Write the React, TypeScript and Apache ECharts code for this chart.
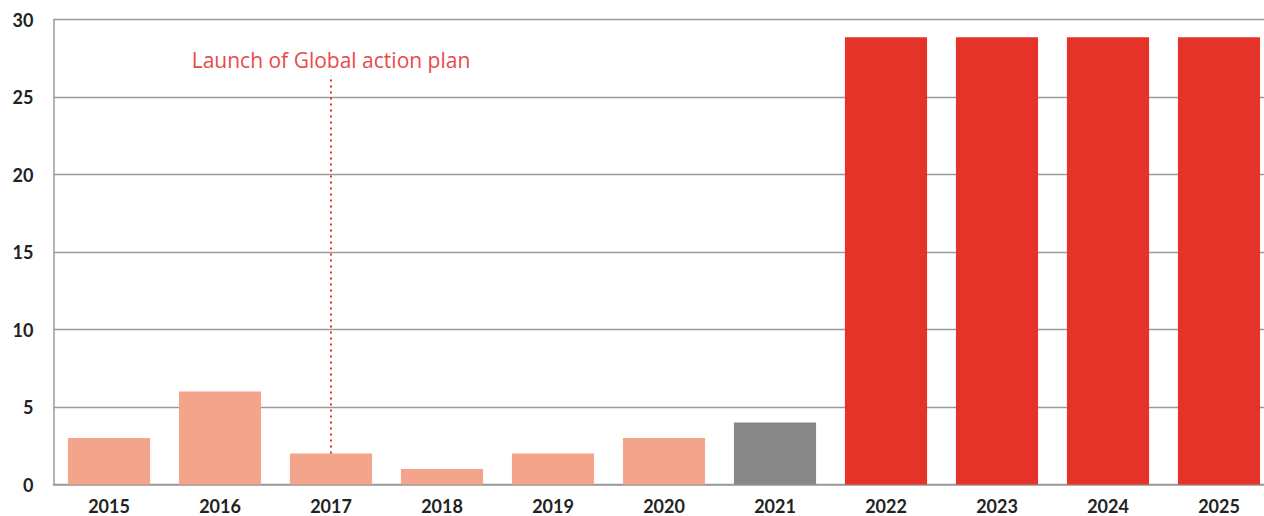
import React, { useEffect, useRef } from "react";
import * as echarts from "echarts";

const categories = ["2015", "2016", "2017", "2018", "2019", "2020", "2021", "2022", "2023", "2024", "2025"];
const values = [3, 6, 2, 1, 2, 3, 4, 28.85, 28.85, 28.85, 28.85];
const barColors = [
  "#F4A48A", "#F4A48A", "#F4A48A", "#F4A48A", "#F4A48A", "#F4A48A",
  "#878787",
  "#E5332A", "#E5332A", "#E5332A", "#E5332A",
];
const annotationText = "Launch of Global action plan";
const annotationCategory = "2017";
const annotationFrom = 2;
const annotationTo = 26.4;

export default function App() {
  const ref = useRef<HTMLDivElement>(null);
  useEffect(() => {
    if (!ref.current) return;
    const chart = echarts.init(ref.current, null, { renderer: "svg" });
    chart.setOption({
      animation: false,
      grid: { left: 53.5, top: 19.5, bottom: 31.5, width: 1221, containLabel: false },
      xAxis: {
        type: "category",
        data: categories,
        axisTick: { show: false },
        axisLine: { show: true, lineStyle: { color: "#9a9a9a", width: 1.5 } },
        axisLabel: {
          margin: 12,
          fontFamily: "Lato",
          fontWeight: "bold",
          fontSize: 18,
          color: "#222",
        },
      },
      yAxis: {
        type: "value",
        min: 0,
        max: 30,
        interval: 5,
        axisLine: { show: true, lineStyle: { color: "#9a9a9a", width: 1.5 } },
        axisTick: { show: false },
        splitLine: { show: true, lineStyle: { color: "#9a9a9a", width: 1.3 } },
        axisLabel: {
          margin: 20,
          fontFamily: "Lato",
          fontWeight: "bold",
          fontSize: 18,
          color: "#222",
        },
      },
      series: [
        {
          type: "bar",
          data: values.map((v, i) => ({ value: v, itemStyle: { color: barColors[i] } })),
          barCategoryGap: "26%",
          markLine: {
            silent: true,
            symbol: ["none", "none"],
            lineStyle: { color: "#E5332A", type: [2, 4], width: 2 },
            label: {
              show: true,
              position: "end",
              distance: 5,
              formatter: annotationText,
              color: "#E84A4A",
              fontFamily: "Open Sans",
              fontSize: 21,
            },
            data: [
              [
                { coord: [annotationCategory, annotationFrom] },
                { coord: [annotationCategory, annotationTo] },
              ],
            ],
          },
        },
      ],
    });
    return () => chart.dispose();
  }, []);
  return (
    <div style={{ position: "fixed", left: 0, top: 0, width: 1264, height: 516, overflow: "hidden", background: "#fff" }}>
      <div ref={ref} style={{ width: 1290, height: 516 }} />
    </div>
  );
}
